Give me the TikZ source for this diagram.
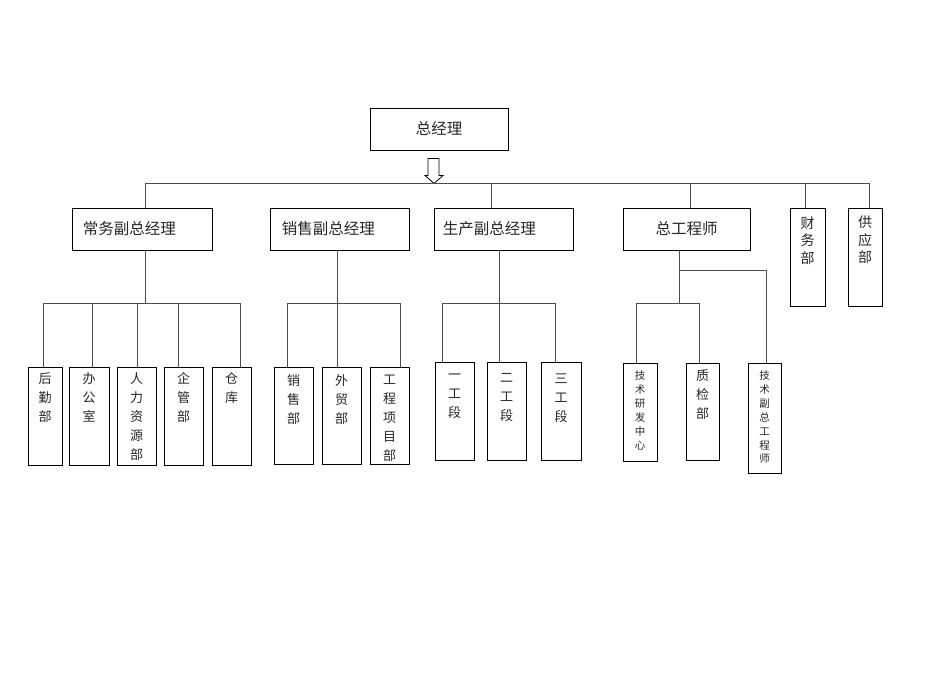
\documentclass[tikz,border=0pt]{standalone}
\usepackage{fontspec}
\setmainfont{Noto Sans CJK SC}
\tikzset{
  box/.style={draw=black,line width=0.9pt,inner sep=0pt,fill=white},
  conn/.style={draw=black!70,line width=0.8pt},
  big/.style={font=\fontsize{15.5}{18}\selectfont,inner sep=0pt,text=black!85},
  vt/.style={font=\fontsize{13}{19}\selectfont,align=center,inner sep=0pt,anchor=north,text=black!85},
  vtm/.style={font=\fontsize{14}{17.5}\selectfont,align=center,inner sep=0pt,anchor=north,text=black!85},
  vts/.style={font=\fontsize{10.5}{13.9}\selectfont,align=center,inner sep=0pt,anchor=north,text=black!85}
}
\begin{document}
\begin{tikzpicture}[x=1pt,y=-1pt]
\useasboundingbox (0,0) rectangle (950,672);

% level 1
\node[box,minimum width=138,minimum height=42] (gm) at (439,129) {};
\node[big] (gmt) at (gm) {总经理};

% hollow arrow
\draw[line width=0.8pt,fill=white] ([shift={(-11,8)}]gm.south) -- ([shift={(0,8)}]gm.south) -- ([shift={(0,25)}]gm.south) -- ([shift={(4,25)}]gm.south) -- ([shift={(-5,33)}]gm.south) -- ([shift={(-14,25)}]gm.south) -- ([shift={(-11,25)}]gm.south) -- cycle;

% level 2
\node[box,minimum width=140,minimum height=42] (cw) at (142,229) {};
\node[box,minimum width=139,minimum height=42] (xs) at (339.5,229) {};
\node[box,minimum width=139,minimum height=42] (sc) at (503.5,229) {};
\node[box,minimum width=127,minimum height=42] (zg) at (686.5,229) {};
\node[box,minimum width=35,minimum height=98] (cwb) at (807.5,257) {};
\node[box,minimum width=34,minimum height=98] (gy) at (865,257) {};

\node[big,anchor=west] (cwt) at ([xshift=11pt]cw.west) {常务副总经理};
\node[big,anchor=west] (xst) at ([xshift=12pt]xs.west) {销售副总经理};
\node[big,anchor=west] (sct) at ([xshift=9pt]sc.west) {生产副总经理};
\node[big] (zgt) at (zg) {总工程师};
\node[vtm] (cwbt) at ([yshift=-8.5pt]cwb.north) {财\\务\\部};
\node[vtm] (gyt) at ([yshift=-8.5pt]gy.north) {供\\应\\部};

% top bus
\draw[conn] (cw.north -| 145,0) -- (145,183) -- (869,183) -- (gy.north -| 869,0);
\draw[conn] (sc.north -| 491,0) -- (491,183);
\draw[conn] (zg.north -| 690,0) -- (690,183);
\draw[conn] (cwb.north -| 805,0) -- (805,183);

% level 3 under cw
\node[box,minimum width=34,minimum height=98] (hq) at (45,416) {};
\node[box,minimum width=40,minimum height=98] (bgs) at (89,416) {};
\node[box,minimum width=39,minimum height=98] (rl) at (136.5,416) {};
\node[box,minimum width=39,minimum height=98] (qg) at (183.5,416) {};
\node[box,minimum width=39,minimum height=98] (ck) at (231.5,416) {};
\node[vt] at ([yshift=-6pt]hq.north) {后\\勤\\部};
\node[vt] at ([yshift=-6pt]bgs.north) {办\\公\\室};
\node[vt] at ([yshift=-6pt]rl.north) {人\\力\\资\\源\\部};
\node[vt] at ([yshift=-6pt]qg.north) {企\\管\\部};
\node[vt] at ([yshift=-6pt]ck.north) {仓\\库};
\draw[conn] (cw.south -| 145,0) -- (145,303);
\draw[conn] (hq.north -| 43,0) -- (43,303) -- (240,303) -- (ck.north -| 240,0);
\draw[conn] (bgs.north -| 92,0) -- (92,303);
\draw[conn] (rl.north -| 137,0) -- (137,303);
\draw[conn] (qg.north -| 178,0) -- (178,303);

% level 3 under xs
\node[box,minimum width=39,minimum height=97] (xsb) at (293.5,415.5) {};
\node[box,minimum width=39,minimum height=97] (wm) at (341.5,415.5) {};
\node[box,minimum width=39,minimum height=97] (gc) at (389.5,415.5) {};
\node[vt] at ([yshift=-8pt]xsb.north) {销\\售\\部};
\node[vt] at ([yshift=-8pt]wm.north) {外\\贸\\部};
\node[vt] at ([yshift=-8pt]gc.north) {工\\程\\项\\目\\部};
\draw[conn] (xs.south -| 337,0) -- (wm.north -| 337,0);
\draw[conn] (xsb.north -| 287,0) -- (287,303) -- (400,303) -- (gc.north -| 400,0);

% level 3 under sc
\node[box,minimum width=39,minimum height=98] (yg) at (454.5,411) {};
\node[box,minimum width=39,minimum height=98] (eg) at (506.5,411) {};
\node[box,minimum width=40,minimum height=98] (sg) at (561,411) {};
\node[vt] at ([yshift=-12pt]yg.north) {一\\工\\段};
\node[vt] at ([yshift=-12pt]eg.north) {二\\工\\段};
\node[vt] at ([yshift=-12pt]sg.north) {三\\工\\段};
\draw[conn] (sc.south -| 499,0) -- (eg.north -| 499,0);
\draw[conn] (yg.north -| 442,0) -- (442,303) -- (555,303) -- (sg.north -| 555,0);

% level 3 under zg
\node[box,minimum width=34,minimum height=98] (js) at (640,412) {};
\node[box,minimum width=33,minimum height=97] (zj) at (702.5,411.5) {};
\node[box,minimum width=33,minimum height=110] (jf) at (764.5,418) {};
\node[vts] at ([yshift=-8pt]js.north) {技\\术\\研\\发\\中\\心};
\node[vt] at ([yshift=-7pt]zj.north) {质\\检\\部};
\node[vts] at ([yshift=-8pt]jf.north) {技\\术\\副\\总\\工\\程\\师};
\draw[conn] (zg.south -| 679,0) -- (679,303);
\draw[conn] (js.north -| 636,0) -- (636,303) -- (699,303) -- (zj.north -| 699,0);
\draw[conn] (679,270) -- (766,270) -- (jf.north -| 766,0);
\end{tikzpicture}
\end{document}
